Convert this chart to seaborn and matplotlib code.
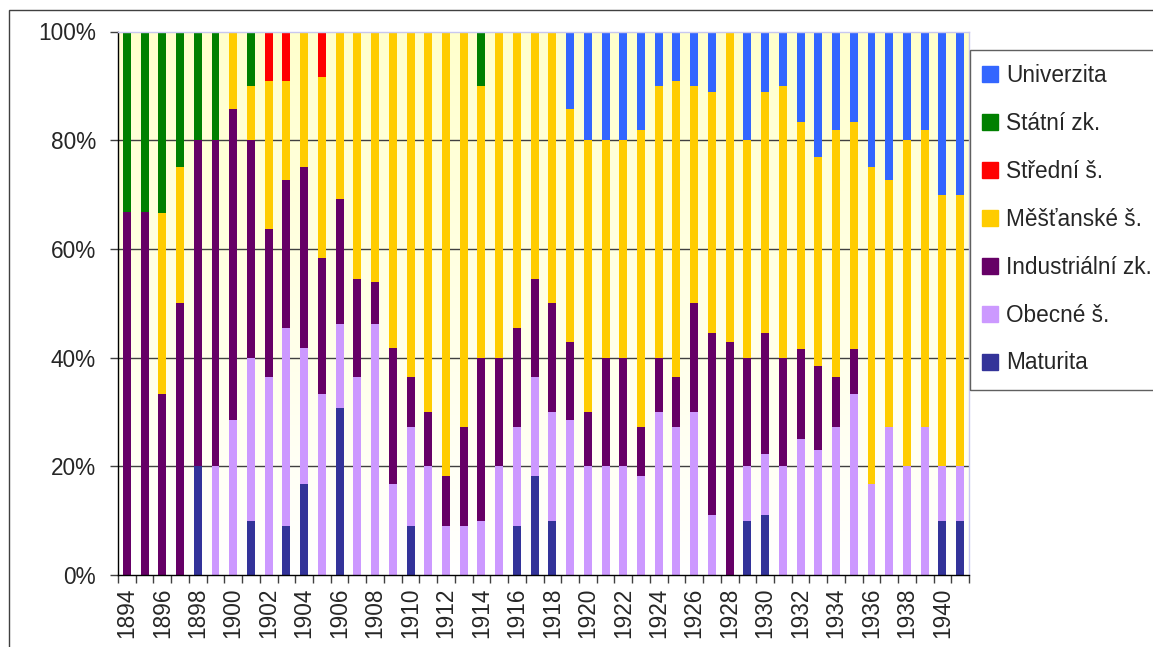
import matplotlib
matplotlib.use('Agg')
import matplotlib.pyplot as plt
from matplotlib.patches import Rectangle
from matplotlib.lines import Line2D
import seaborn as sns
import numpy as np
import pandas as pd

years = list(range(1894, 1942))

# shares per year (percent)
maturita = [0, 0, 0, 0, 20, 0, 0, 10, 0, 9.1, 16.7, 0,
            30.8, 0, 0, 0, 9.1, 0, 0, 0, 0, 0, 9.1, 18.2,
            10, 0, 0, 0, 0, 0, 0, 0, 0, 0, 0, 10,
            11.1, 0, 0, 0, 0, 0, 0, 0, 0, 0, 10, 10]
obecne = [0, 0, 0, 0, 0, 20, 28.6, 30, 36.4, 36.4, 25, 33.3,
          15.4, 36.4, 46.2, 16.7, 18.2, 20, 9.1, 9.1, 10, 20, 18.2, 18.2,
          20, 28.6, 20, 20, 20, 18.2, 30, 27.3, 30, 11.1, 0, 10,
          11.1, 20, 25, 23.1, 27.3, 33.3, 16.7, 27.3, 20, 27.3, 10, 10]
industrialni = [66.7, 66.7, 33.3, 50, 60, 60, 57.1, 40, 27.3, 27.3, 33.3, 25,
                23.1, 18.2, 7.7, 25, 9.1, 10, 9.1, 18.2, 30, 20, 18.2, 18.2,
                20, 14.3, 10, 20, 20, 9.1, 10, 9.1, 20, 33.3, 42.9, 20,
                22.2, 20, 16.7, 15.4, 9.1, 8.3, 0, 0, 0, 0, 0, 0]
mestanske = [0, 0, 33.3, 25, 0, 0, 14.3, 10, 27.3, 18.2, 25, 33.3,
             30.8, 45.5, 46.2, 58.3, 63.6, 70, 81.8, 72.7, 50, 60, 54.5, 45.5,
             50, 42.9, 50, 40, 40, 54.5, 50, 54.5, 40, 44.4, 57.1, 40,
             44.4, 50, 41.7, 38.5, 45.5, 41.7, 58.3, 45.5, 60, 54.5, 50, 50]
stredni = [0, 0, 0, 0, 0, 0, 0, 0, 9.1, 9.1, 0, 8.3,
           0, 0, 0, 0, 0, 0, 0, 0, 0, 0, 0, 0,
           0, 0, 0, 0, 0, 0, 0, 0, 0, 0, 0, 0,
           0, 0, 0, 0, 0, 0, 0, 0, 0, 0, 0, 0]
statni = [33.3, 33.3, 33.3, 25, 20, 20, 0, 10, 0, 0, 0, 0,
          0, 0, 0, 0, 0, 0, 0, 0, 10, 0, 0, 0,
          0, 0, 0, 0, 0, 0, 0, 0, 0, 0, 0, 0,
          0, 0, 0, 0, 0, 0, 0, 0, 0, 0, 0, 0]
univerzita = [0, 0, 0, 0, 0, 0, 0, 0, 0, 0, 0, 0,
              0, 0, 0, 0, 0, 0, 0, 0, 0, 0, 0, 0,
              0, 14.3, 20, 20, 20, 18.2, 10, 9.1, 10, 11.1, 0, 20,
              11.1, 10, 16.7, 23.1, 18.2, 16.7, 25, 27.3, 20, 18.2, 30, 30]

labels = ['Maturita', 'Obecné š.', 'Industriální zk.', 'Měšťanské š.',
          'Střední š.', 'Státní zk.', 'Univerzita']
colors = ['#333399', '#CC99FF', '#660066', '#FFCC00', '#FF0000', '#008000', '#3366FF']
series = [maturita, obecne, industrialni, mestanske, stredni, statni, univerzita]

df = pd.DataFrame(dict(zip(labels, series)), index=years)
df = df.div(df.sum(axis=1), axis=0) * 100
cum = df.cumsum(axis=1)
cum['year'] = [str(y) for y in years]

sns.set_style('white')
plt.rcParams['font.family'] = ['Liberation Sans', 'DejaVu Sans']
FS = 16.3

fig = plt.figure(figsize=(11.53, 6.47), dpi=100)
ax = fig.add_axes([118 / 1153, 1 - 575 / 647, 851 / 1153, 543.5 / 647])

# pale yellow to white plot background
grad = np.linspace(1, 0, 256).reshape(-1, 1)
bg = np.ones((256, 1, 3))
bg[:, 0, 2] = 1 - 0.2 * grad[:, 0]
ax.imshow(bg, extent=[-0.5, 47.5, 0, 100], aspect='auto', zorder=0)

for v in [20, 40, 60, 80]:
    ax.axhline(v, color='#404040', lw=1.0, zorder=1)

# stack by drawing cumulative totals from the top layer down
for lab, col in reversed(list(zip(labels, colors))):
    sns.barplot(data=cum, x='year', y=lab, color=col, saturation=1,
                width=0.45, ax=ax, zorder=2, linewidth=0)

ax.set_xlim(-0.5, 47.5)
ax.set_ylim(0, 100)
ax.set_xlabel('')
ax.set_ylabel('')

ax.set_yticks([0, 20, 40, 60, 80, 100])
ax.set_yticklabels([f'{v}%' for v in [0, 20, 40, 60, 80, 100]], fontsize=FS)
ax.tick_params(axis='y', length=6, width=1, color='#404040', pad=10, left=True)

ax.set_xticks(range(0, 48, 2))
ax.set_xticklabels([str(y) for y in years[::2]], rotation=90, fontsize=FS)
ax.set_xticks(np.arange(-0.5, 48, 1), minor=True)
ax.tick_params(axis='x', which='major', length=0, pad=9)
ax.tick_params(axis='x', which='minor', length=6, width=1, color='#404040', bottom=True)

for s in ['left', 'bottom']:
    ax.spines[s].set_color('black')
    ax.spines[s].set_linewidth(1)
for s in ['top', 'right']:
    ax.spines[s].set_color('#C8C8F0')
    ax.spines[s].set_linewidth(1)

# outer chart frame and legend box, both run past the image edge
fig.patches.append(Rectangle((9 / 1153, -0.2), 1.2, 0.2 + 1 - 10 / 647,
                             transform=fig.transFigure, fill=False,
                             edgecolor='#404040', lw=1))
fig.patches.append(Rectangle((970 / 1153, 1 - 390 / 647), 0.3, 340 / 647,
                             transform=fig.transFigure, fill=False,
                             edgecolor='#606060', lw=1))

handles = [Line2D([], [], marker='s', linestyle='', markersize=11,
                  markerfacecolor=c, markeredgecolor=c)
           for c in reversed(colors)]
fig.legend(handles, list(reversed(labels)), loc='upper left',
           bbox_to_anchor=(972 / 1153, 1 - 55 / 647), frameon=False,
           fontsize=FS, handlelength=0.8, handletextpad=0.3,
           labelspacing=1.1, borderaxespad=0)

fig.savefig('out.png', dpi=100)
plt.close(fig)
